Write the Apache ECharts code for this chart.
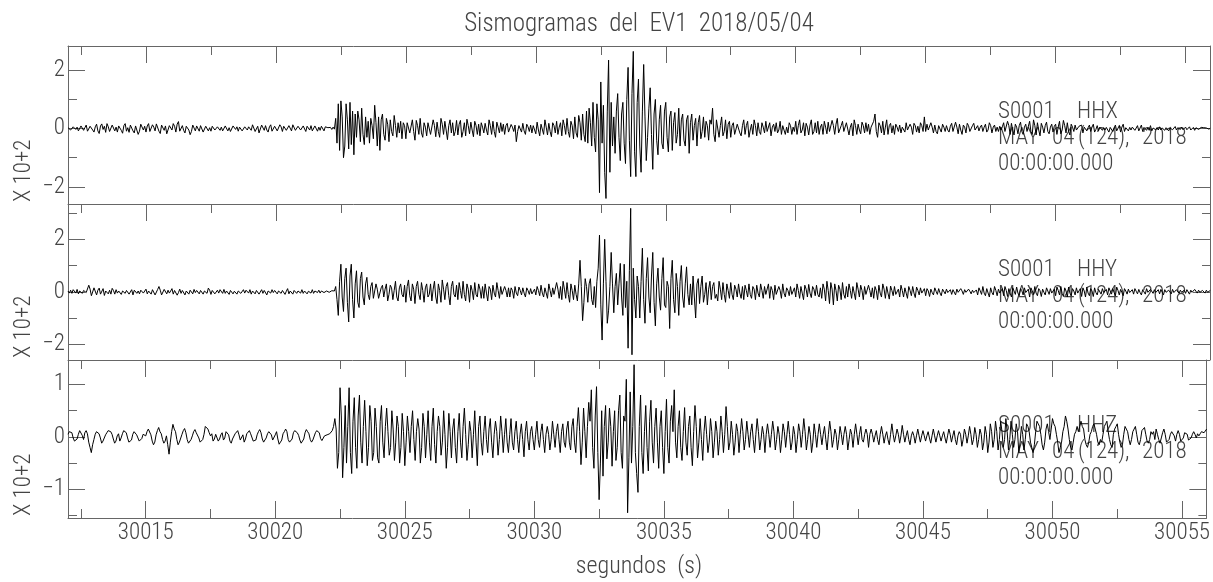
<!DOCTYPE html>
<html>
<head>
<meta charset="utf-8">
<script src="https://cdn.jsdelivr.net/npm/echarts@6/dist/echarts.min.js"></script>
<style>
html, body { margin: 0; padding: 0; background: #fff; }
#chart { width: 1213px; height: 582px; }
</style>
</head>
<body>
<div id="chart"></div>
<script>
// inicio de la traza y paso de muestreo (s)
const t0 = 30012.0
const dt = 0.05

// amplitudes (x 10+2), una fila = 1 s
const hhx = [
  0.03, 0.08, -0.05, -0.09, 0.06, 0.1, -0.03, 0.05, -0.08, -0.12, 0.09, 0.13, -0.06, 0.03, 0.12, -0.09, -0.15, 0.08, 0.1, -0.05,
  -0.12, 0.06, 0.15, -0.08, -0.17, 0.09, 0.16, -0.03, 0.08, -0.13, 0.17, 0.06, -0.1, -0.15, 0.12, 0.18, -0.08, 0.05, -0.12, 0.09,
  0.15, -0.06, -0.16, 0.1, 0.17, -0.09, 0.03, -0.13, 0.12, 0.18, -0.08, -0.15, 0.09, 0.06, -0.2, -0.09, 0.15, 0.17, -0.05, 0.08,
  -0.12, 0.09, 0.17, -0.1, -0.15, 0.13, 0.05, -0.08, 0.16, 0.21, -0.09, -0.17, 0.12, 0.15, -0.06, 0.09, -0.18, -0.21, 0.1, 0.13,
  -0.05, 0.17, 0.08, -0.12, 0.15, 0.24, -0.09, -0.13, 0.1, -0.06, -0.15, 0.08, 0.13, -0.05, -0.21, -0.1, 0.12, 0.06, -0.08, 0.09,
  0.06, -0.09, 0.1, 0.05, -0.12, -0.06, 0.08, 0.09, -0.08, 0.03, -0.09, 0.08, 0.12, -0.05, -0.1, 0.06, 0.09, -0.06, 0.05, -0.08,
  -0.05, 0.09, 0.1, -0.08, 0.03, -0.1, -0.06, 0.09, 0.08, -0.03, 0.06, -0.09, 0.05, 0.1, -0.08, -0.09, 0.06, 0.08, -0.05, 0.06,
  0.09, -0.06, 0.13, 0.15, -0.1, -0.05, 0.08, -0.15, -0.09, 0.12, 0.08, -0.06, 0.1, -0.05, -0.12, 0.06, 0.13, -0.09, -0.03, 0.08,
  0.09, -0.08, -0.05, 0.13, 0.06, -0.1, 0.08, 0.12, -0.06, -0.09, 0.1, 0.05, -0.08, 0.13, 0.09, -0.06, -0.1, 0.08, 0.12, -0.05,
  -0.06, 0.09, 0.03, -0.1, 0.08, 0.06, -0.05, 0.1, -0.08, -0.03, 0.09, 0.06, -0.09, 0.05, -0.06, 0.08, 0.03, -0.08, 0.06, 0.03,
  0.03, -0.02, 0.04, -0.03, 0.05, -0.02, 0.35, -0.5, 0.85, -0.75, 0.95, 0.4, -1.0, -0.6, 0.85, 0.3, -0.7, 0.9, -0.55, 0.6,
  -0.9, 0.5, -0.3, 0.6, 0.3, -0.45, 0.7, -0.2, -0.55, 0.4, -0.3, 0.25, -0.5, 0.35, 0.1, -0.35, 0.8, 0.2, -0.6, 0.4,
  -0.75, 0.3, 0.5, -0.2, -0.4, 0.35, 0.15, -0.45, 0.3, -0.1, -0.25, 0.45, 0.1, -0.3, 0.2, -0.15, 0.25, -0.35, 0.2, 0.1,
  -0.35, 0.2, 0.25, -0.15, -0.2, 0.3, -0.1, -0.4, 0.28, 0.1, -0.2, 0.35, -0.15, -0.3, 0.2, 0.05, -0.25, 0.2, 0.15, -0.2,
  -0.25, 0.3, 0.1, -0.28, 0.22, -0.1, -0.3, 0.35, 0.15, -0.2, 0.25, -0.05, -0.38, 0.1, 0.3, -0.15, 0.2, -0.25, -0.1, 0.28,
  -0.22, 0.15, 0.28, -0.3, -0.1, 0.2, -0.25, 0.32, 0.1, -0.18, 0.22, -0.05, -0.28, 0.25, 0.1, -0.2, 0.15, -0.25, 0.2, 0.05,
  -0.15, 0.18, -0.05, -0.22, 0.3, 0.1, -0.2, 0.25, -0.1, -0.3, 0.22, 0.05, -0.15, 0.2, -0.1, 0.15, -0.2, 0.1, 0.18, -0.12,
  -0.12, 0.14, 0.05, -0.1, 0.12, -0.45, -0.1, 0.1, 0.05, -0.12, 0.18, -0.08, -0.2, 0.15, 0.06, -0.1, 0.12, -0.15, 0.1, 0.05,
  -0.18, 0.22, -0.05, -0.25, 0.15, 0.1, -0.2, 0.3, 0.05, -0.22, 0.18, -0.1, -0.28, 0.2, 0.1, -0.15, 0.25, -0.2, 0.05, 0.2,
  -0.25, 0.3, 0.1, -0.2, 0.35, -0.1, -0.3, 0.25, 0.1, -0.35, 0.4, -0.15, -0.3, 0.45, 0.2, -0.4, 0.5, -0.2, -0.45, 0.6,
  -0.5, 0.7, 0.2, -0.6, 0.9, -0.3, -0.8, 0.85, 0.3, -2.2, 1.6, -0.5, 0.8, -1.5, -2.4, 0.6, 2.35, -1.5, 0.9, -0.6,
  0.4, -0.85, 0.6, 1.2, -0.3, -1.1, 0.5, 0.9, -0.5, -1.2, 1.0, 2.1, -0.4, -1.65, 1.2, 2.65, -0.8, -1.65, 0.9, 1.7,
  -0.6, -1.5, 0.6, 2.2, 0.4, -1.1, -0.3, 0.7, 1.4, -0.2, -1.4, 0.5, 1.0, -0.4, -0.9, 0.3, 0.8, -0.5, -0.7, 0.6,
  0.9, -0.3, -0.8, 0.4, 0.6, -0.75, 0.2, 0.55, -0.5, -0.2, 0.7, -0.6, 0.3, 0.5, -0.4, -0.6, 0.3, 0.45, -0.85, 0.2,
  0.5, -0.4, 0.1, 0.35, -0.6, 0.2, 0.45, -0.35, -0.1, 0.4, -0.3, 0.25, 0.1, -0.4, 0.3, 0.15, 0.7, -0.2, -0.45, 0.3,
  0.35, -0.3, 0.1, 0.4, -0.25, -0.1, 0.3, -0.35, 0.15, 0.25, -0.3, 0.1, 0.2, -0.2, -0.25, 0.15, 0.2, -0.15, -0.25, 0.1,
  0.3, -0.2, 0.1, 0.25, -0.3, -0.05, 0.15, -0.2, 0.3, 0.1, -0.25, 0.2, -0.1, -0.2, 0.2, 0.05, -0.15, 0.25, -0.1, -0.15,
  0.2, -0.25, 0.05, 0.15, -0.1, 0.2, -0.15, -0.05, 0.25, -0.2, 0.1, 0.15, -0.2, 0.05, -0.15, 0.2, 0.1, -0.2, 0.05, -0.1,
  0.25, -0.2, 0.1, 0.3, -0.15, -0.05, 0.2, -0.25, 0.18, 0.05, -0.22, 0.12, 0.3, -0.2, -0.1, 0.2, -0.15, 0.25, -0.2, 0.05,
  0.15, -0.2, 0.25, 0.05, -0.18, 0.22, -0.1, -0.15, 0.28, 0.1, -0.2, 0.15, 0.35, -0.15, -0.2, 0.1, 0.25, -0.1, -0.15, 0.2,
  0.2, -0.22, 0.05, 0.18, -0.25, 0.3, 0.1, -0.2, 0.15, -0.05, -0.18, 0.22, 0.1, -0.15, 0.2, -0.1, 0.15, -0.2, 0.05, 0.1,
  0.25, 0.5, -0.1, -0.3, 0.2, 0.1, -0.15, 0.25, -0.22, 0.05, 0.3, -0.2, 0.1, 0.18, -0.15, 0.1, -0.2, 0.15, 0.05, -0.1,
  0.12, -0.15, 0.05, 0.1, -0.12, 0.2, -0.05, -0.1, 0.15, 0.05, -0.2, 0.18, 0.1, -0.12, 0.08, -0.15, 0.2, 0.1, -0.1, 0.4,
  -0.1, 0.15, -0.05, -0.1, 0.2, 0.05, -0.15, 0.12, -0.1, -0.18, 0.1, 0.05, -0.12, 0.15, 0.05, -0.1, 0.1, -0.05, -0.12, 0.08,
  0.18, -0.1, -0.15, 0.22, 0.05, -0.18, 0.15, -0.05, -0.2, 0.12, 0.05, -0.15, 0.18, 0.1, -0.1, -0.15, 0.1, 0.18, -0.05, -0.1,
  0.1, -0.08, 0.05, 0.12, -0.1, 0.05, 0.15, -0.12, -0.05, 0.2, 0.1, -0.15, 0.05, 0.12, -0.1, 0.05, -0.1, 0.08, -0.05, 0.06,
  0.2, -0.1, -0.15, 0.25, 0.1, -0.2, 0.18, -0.05, -0.22, 0.15, 0.05, -0.18, 0.1, 0.22, -0.1, -0.2, 0.05, 0.15, -0.1, -0.05,
  0.25, -0.1, -0.2, 0.3, 0.1, -0.22, 0.2, -0.05, -0.25, 0.18, 0.05, -0.15, 0.1, 0.22, -0.1, -0.18, 0.05, 0.15, -0.12, 0.08,
  0.15, -0.2, 0.05, 0.25, -0.18, -0.05, 0.28, 0.1, -0.15, 0.2, -0.1, -0.22, 0.15, 0.05, -0.1, 0.12, -0.05, -0.1, 0.08, 0.05,
  0.12, -0.15, 0.05, 0.1, -0.08, 0.03, 0.12, -0.1, 0.05, 0.15, -0.12, -0.03, 0.1, -0.08, 0.05, 0.08, -0.06, 0.03, -0.05, 0.04,
  0.1, -0.12, 0.04, 0.08, -0.1, 0.02, 0.12, -0.08, -0.03, 0.1, -0.12, 0.05, 0.15, -0.1, 0.03, 0.06, -0.08, 0.04, -0.05, 0.05,
  0.08, -0.06, 0.02, 0.1, -0.08, -0.03, 0.12, -0.1, 0.04, 0.08, -0.06, 0.03, -0.06, 0.1, -0.08, 0.02, 0.05, -0.04, 0.03, -0.05,
  0.06, -0.05, 0.02, 0.08, -0.06, 0.03, 0.05, -0.08, 0.02, 0.06, -0.04, -0.02, 0.07, -0.05, 0.03, 0.04, -0.03, 0.05, -0.04, 0.02,
  0.05, -0.04, 0.02, 0.06, -0.05, 0.01, 0.04, -0.06, 0.03, 0.05, -0.03, 0.02, 0.04, -0.02, 0.03, -0.03, 0.02, 0.04, -0.02, 0.01
]

const hhy = [
  0.03, -0.05, 0.06, -0.06, 0.08, 0.05, -0.05, 0.09, -0.08, 0.03, 0.06, -0.06, 0.05, 0.08, -0.03, 0.02, 0.25, 0.1, -0.15, -0.08,
  0.15, 0.08, -0.12, 0.06, 0.14, -0.09, -0.05, 0.12, -0.14, 0.03, 0.1, -0.08, 0.06, -0.09, 0.13, 0.05, -0.09, 0.08, -0.05, 0.03,
  0.08, -0.1, 0.03, 0.09, -0.06, 0.05, 0.12, -0.09, -0.03, 0.08, -0.12, 0.06, 0.09, -0.06, 0.03, -0.08, 0.06, 0.09, -0.05, 0.02,
  0.1, -0.08, 0.03, 0.06, -0.09, 0.08, 0.12, -0.12, -0.05, 0.09, 0.2, 0.06, -0.12, -0.06, 0.09, 0.03, -0.08, 0.06, -0.05, 0.03,
  0.12, -0.09, 0.05, 0.08, -0.13, -0.03, 0.1, -0.06, 0.05, 0.09, -0.12, 0.03, 0.08, -0.09, 0.06, 0.03, -0.08, 0.09, -0.03, 0.05,
  0.06, -0.08, 0.05, 0.1, -0.09, 0.03, 0.08, -0.06, 0.14, 0.06, -0.1, 0.05, 0.09, -0.08, -0.03, 0.06, -0.05, 0.08, 0.03, -0.06,
  0.09, -0.06, 0.03, 0.08, -0.1, 0.05, 0.12, -0.08, 0.02, 0.06, -0.09, 0.03, 0.1, -0.06, -0.03, 0.08, -0.05, 0.06, 0.03, -0.05,
  0.08, -0.09, 0.03, 0.06, -0.08, 0.05, 0.12, -0.09, -0.03, 0.08, -0.06, 0.05, 0.09, -0.12, 0.03, 0.06, -0.05, 0.08, -0.03, 0.05,
  0.1, -0.08, 0.03, 0.09, -0.06, 0.05, 0.08, -0.1, 0.02, 0.12, -0.08, 0.03, 0.06, -0.09, 0.05, 0.08, -0.06, 0.03, 0.06, -0.05,
  0.08, -0.06, 0.03, 0.09, -0.08, 0.02, 0.06, -0.05, 0.08, -0.06, 0.03, 0.05, -0.03, 0.06, -0.05, 0.03, 0.05, -0.03, 0.02, 0.03,
  0.03, -0.02, 0.01, 0.04, -0.02, 0.03, 0.2, -0.3, -0.9, 0.4, 1.05, -0.2, -0.75, 0.5, 0.9, -0.4, -1.15, 0.6, 1.05, -0.3,
  -1.0, 0.3, 0.8, -0.4, -0.6, 0.5, 0.75, -0.2, -0.5, 0.3, 0.55, -0.1, -0.3, 0.2, 0.35, -0.25, -0.2, 0.3, 0.1, -0.25,
  -0.3, 0.15, 0.25, -0.2, 0.1, 0.3, -0.35, -0.1, 0.25, 0.15, -0.3, 0.05, 0.4, -0.2, -0.35, 0.15, 0.3, -0.1, -0.2, 0.25,
  -0.4, 0.2, 0.45, -0.15, -0.35, 0.3, 0.1, -0.45, 0.2, 0.4, -0.1, -0.3, 0.35, 0.05, -0.4, 0.15, 0.3, -0.2, -0.1, 0.3,
  -0.35, 0.1, 0.4, -0.2, -0.45, 0.3, 0.05, -0.4, 0.45, 0.1, -0.3, 0.2, 0.35, -0.15, -0.5, 0.2, 0.4, -0.1, -0.2, 0.25,
  -0.3, 0.35, 0.05, -0.25, 0.4, -0.1, -0.35, 0.3, 0.1, -0.4, 0.25, 0.05, -0.3, 0.35, -0.1, -0.2, 0.3, 0.1, -0.25, 0.2,
  -0.25, 0.3, -0.05, -0.35, 0.2, 0.1, -0.3, 0.25, -0.05, -0.2, 0.35, 0.05, -0.25, 0.2, -0.1, -0.15, 0.2, 0.05, -0.2, 0.15,
  -0.2, 0.15, 0.05, -0.25, 0.2, -0.05, -0.15, 0.18, 0.05, -0.12, 0.15, -0.05, -0.2, 0.15, 0.05, -0.1, 0.12, -0.08, -0.05, 0.1,
  -0.12, 0.2, 0.05, -0.15, 0.25, -0.05, -0.2, 0.15, 0.1, -0.25, 0.3, 0.05, -0.2, 0.15, -0.1, -0.15, 0.35, 0.1, -0.25, 0.2,
  -0.3, 0.4, 0.1, -0.25, 0.35, -0.1, -0.4, 0.3, 0.05, -0.3, 0.25, -0.1, -0.35, 0.3, 1.2, 0.2, -1.1, -0.4, 0.5, 0.2,
  -0.4, 0.3, 0.5, -0.3, -0.5, 0.2, -0.6, 0.4, 0.9, 2.16, -0.5, -1.84, 0.3, 2.0, 0.4, -1.2, -0.7, 0.2, 1.5, 0.3,
  -0.8, 0.2, 0.7, -0.5, 0.3, 1.08, -0.2, -0.9, 1.05, -0.6, 0.4, -2.15, 0.8, 3.18, -2.4, 0.9, -0.3, -1.0, 0.6, 0.2,
  -1.0, 0.4, 1.66, -0.3, -1.2, 0.5, 1.3, -0.2, -0.8, 0.6, 1.5, -0.4, -1.3, 0.3, 0.9, -0.2, -0.7, 0.5, 1.3, -0.5,
  -0.6, 0.4, 0.2, -1.4, 0.5, 1.2, -0.3, -0.8, 0.7, 0.2, -0.9, 0.4, 1.0, -0.2, -0.6, 0.3, 0.95, -0.1, -0.5, 0.3,
  -0.5, 0.6, -0.2, -1.0, 0.3, 0.5, -0.45, 0.2, 0.6, -0.4, -0.1, 0.35, -0.5, 0.1, 0.4, -0.3, 0.2, 0.35, -0.25, -0.1,
  -0.35, 0.4, 0.1, -0.3, 0.35, -0.1, -0.4, 0.3, 0.05, -0.25, 0.35, -0.1, -0.3, 0.25, 0.1, -0.2, 0.3, -0.05, -0.25, 0.2,
  -0.3, 0.25, 0.05, -0.2, 0.3, -0.1, -0.25, 0.2, 0.1, -0.3, 0.25, -0.05, -0.2, 0.3, 0.05, -0.25, 0.2, -0.1, -0.15, 0.3,
  -0.25, 0.2, 0.05, -0.3, 0.25, -0.1, -0.15, 0.2, 0.05, -0.25, 0.3, -0.05, -0.2, 0.15, 0.05, -0.15, 0.2, -0.1, -0.1, 0.15,
  -0.2, 0.3, 0.05, -0.25, 0.2, -0.05, -0.3, 0.25, 0.1, -0.2, 0.28, -0.05, -0.22, 0.2, 0.1, -0.15, 0.25, -0.1, -0.2, 0.15,
  -0.25, 0.3, 0.1, -0.35, 0.4, 0.05, -0.45, 0.35, 0.1, -0.5, 0.3, 0.05, -0.35, 0.25, 0.1, -0.3, 0.35, -0.1, -0.25, 0.2,
  -0.2, 0.3, 0.05, -0.25, 0.2, -0.05, -0.3, 0.35, 0.1, -0.2, 0.25, 0.05, -0.3, 0.2, -0.1, -0.15, 0.25, 0.05, -0.2, 0.15,
  -0.25, 0.2, 0.05, -0.3, 0.25, -0.05, -0.2, 0.3, 0.1, -0.25, 0.2, -0.05, -0.28, 0.22, 0.05, -0.15, 0.2, -0.1, -0.15, 0.1,
  -0.2, 0.25, 0.05, -0.2, 0.15, -0.05, -0.25, 0.2, 0.05, -0.15, 0.2, -0.05, -0.22, 0.18, 0.05, -0.12, 0.15, -0.05, -0.1, 0.12,
  -0.15, 0.12, 0.03, -0.18, 0.1, -0.03, -0.12, 0.15, 0.02, -0.1, 0.12, -0.04, -0.15, 0.1, 0.03, -0.08, 0.1, -0.03, -0.06, 0.08,
  -0.1, 0.08, 0.02, -0.12, 0.1, -0.02, -0.08, 0.12, 0.03, -0.1, 0.08, -0.02, -0.06, 0.1, 0.02, -0.08, 0.06, -0.03, -0.05, 0.07,
  -0.12, 0.15, 0.03, -0.1, 0.2, -0.05, -0.15, 0.12, 0.05, -0.2, 0.15, -0.03, -0.12, 0.2, 0.05, -0.15, 0.1, -0.05, -0.1, 0.12,
  -0.15, 0.2, 0.05, -0.18, 0.12, -0.05, -0.2, 0.15, 0.03, -0.1, 0.18, -0.05, -0.15, 0.12, 0.04, -0.12, 0.15, -0.03, -0.1, 0.1,
  -0.2, 0.15, 0.03, -0.1, 0.2, -0.05, -0.15, 0.12, 0.04, -0.18, 0.1, -0.02, -0.12, 0.15, 0.03, -0.1, 0.12, -0.05, -0.08, 0.1,
  -0.15, 0.18, 0.05, -0.12, 0.2, -0.06, -0.18, 0.15, 0.03, -0.2, 0.18, -0.05, -0.15, 0.12, 0.03, -0.12, 0.15, -0.05, -0.09, 0.12,
  -0.18, 0.15, 0.03, -0.2, 0.18, -0.05, -0.15, 0.12, 0.03, -0.18, 0.15, -0.03, -0.12, 0.09, 0.03, -0.09, 0.12, -0.03, -0.08, 0.09,
  -0.12, 0.15, 0.03, -0.09, 0.12, -0.03, -0.15, 0.18, 0.05, -0.12, 0.09, -0.03, -0.15, 0.12, 0.03, -0.09, 0.1, -0.03, -0.08, 0.08,
  -0.09, 0.12, 0.02, -0.08, 0.09, -0.03, -0.12, 0.08, 0.03, -0.09, 0.12, -0.02, -0.08, 0.09, 0.02, -0.06, 0.08, -0.03, -0.05, 0.08,
  -0.08, 0.09, 0.02, -0.12, 0.08, -0.02, -0.09, 0.06, 0.02, -0.08, 0.09, -0.03, -0.06, 0.08, 0.02, -0.06, 0.06, -0.02, -0.05, 0.06,
  -0.06, 0.08, 0.02, -0.09, 0.06, -0.02, -0.08, 0.09, 0.02, -0.05, 0.06, -0.02, -0.08, 0.05, 0.02, -0.05, 0.06, -0.02, -0.03, 0.05
]

const hhz = [
  0.05, 0.1, 0.12, 0.08, -0.02, -0.08, -0.1, -0.04, 0.05, 0.12, 0.1, 0.03, -0.05, 0.08, 0.12, 0.06, -0.1, -0.2, -0.3, -0.15,
  -0.05, 0.05, 0.1, 0.12, 0.06, -0.02, -0.12, -0.08, -0.05, 0.04, 0.08, 0.12, 0.15, 0.1, 0.05, -0.04, -0.12, -0.08, 0.02, 0.06,
  -0.08, -0.02, 0.06, 0.12, 0.14, 0.08, -0.02, -0.1, -0.12, -0.06, 0.05, 0.1, 0.12, 0.04, -0.02, -0.08, -0.1, -0.03, 0.05, 0.08,
  0.02, 0.1, 0.15, 0.12, 0.04, -0.08, -0.15, -0.1, 0.04, 0.12, 0.18, 0.1, 0.06, -0.05, -0.12, -0.08, 0.02, -0.15, -0.33, -0.1,
  0.1, 0.24, 0.15, 0.1, -0.05, -0.15, -0.1, -0.08, 0.05, 0.12, 0.16, 0.08, -0.05, -0.12, -0.15, -0.05, 0.02, 0.1, 0.14, 0.08,
  0.08, -0.02, -0.1, -0.08, -0.05, 0.05, 0.2, 0.18, 0.15, 0.08, 0.02, 0.06, -0.08, -0.04, 0.05, 0.08, -0.08, -0.04, 0.04, 0.08,
  -0.06, -0.02, 0.1, 0.08, 0.04, -0.08, -0.12, -0.04, -0.04, 0.06, 0.08, 0.12, 0.04, -0.06, -0.06, 0.04, -0.1, -0.04, 0.06, 0.08,
  0.12, 0.06, 0.04, -0.08, -0.1, -0.06, 0.04, 0.1, 0.14, 0.08, -0.04, -0.1, -0.12, -0.02, 0.06, 0.1, 0.12, 0.04, -0.06, -0.08,
  0.04, 0.1, -0.04, -0.14, -0.1, -0.06, 0.06, 0.1, 0.15, 0.1, -0.05, -0.1, -0.12, -0.04, 0.08, 0.12, 0.15, 0.08, 0.03, -0.06,
  -0.12, -0.1, -0.04, 0.08, 0.14, 0.1, 0.06, -0.05, -0.1, -0.06, -0.03, 0.08, 0.12, 0.1, 0.08, -0.03, -0.07, -0.04, 0.02, 0.03,
  0.04, 0.05, 0.06, 0.08, 0.12, 0.2, 0.35, 0.15, -0.6, -0.3, 0.94, 0.4, -0.78, -0.2, 0.6, -0.5, 0.2, 0.94, -0.3, -0.7,
  0.3, 0.75, -0.2, -0.6, 0.4, 0.8, -0.1, -0.5, 0.2, 0.7, 0.1, -0.55, -0.2, 0.6, 0.3, -0.45, -0.3, 0.55, 0.2, -0.4,
  -0.5, 0.3, 0.6, -0.1, -0.4, 0.2, 0.55, 0.1, -0.35, -0.2, 0.5, 0.15, -0.45, -0.1, 0.4, 0.2, -0.5, -0.2, 0.45, 0.1,
  -0.55, -0.1, 0.4, 0.1, -0.3, 0.2, 0.5, -0.05, -0.45, 0.1, 0.35, 0.15, -0.5, -0.2, 0.45, 0.2, -0.4, 0.05, 0.5, -0.1,
  -0.45, 0.2, 0.55, -0.15, -0.5, 0.1, 0.4, 0.2, -0.35, -0.1, 0.5, 0.05, -0.6, -0.2, 0.45, 0.1, -0.4, 0.15, 0.35, -0.2,
  -0.5, 0.1, 0.45, -0.1, -0.4, 0.2, 0.55, 0.05, -0.45, -0.15, 0.3, 0.1, -0.4, 0.05, 0.5, -0.1, -0.55, 0.2, 0.4, -0.1,
  -0.35, 0.1, 0.4, -0.05, -0.3, 0.15, 0.35, -0.1, -0.4, 0.05, 0.3, 0.1, -0.35, -0.05, 0.4, 0.1, -0.3, 0.05, 0.35, -0.1,
  -0.3, 0.05, 0.35, -0.1, -0.25, 0.1, 0.3, -0.05, -0.3, 0.05, 0.25, -0.05, -0.38, 0.1, 0.3, -0.05, -0.25, 0.1, 0.2, -0.05,
  -0.25, 0.05, 0.3, -0.05, -0.2, 0.1, 0.25, -0.05, -0.3, 0.05, 0.2, 0.05, -0.25, -0.05, 0.3, 0.05, -0.2, 0.1, 0.25, -0.05,
  -0.3, 0.1, 0.25, -0.1, -0.2, 0.15, 0.3, -0.1, -0.25, 0.2, 0.35, -0.1, -0.3, 0.2, 0.56, 0.1, -0.53, -0.1, 0.55, 0.1,
  -0.4, 0.2, 0.66, 0.3, 0.9, -0.2, -0.6, 0.4, 0.96, -0.3, -1.2, -0.5, 0.5, -0.75, 0.2, 0.6, -0.42, -0.1, 0.55, 0.2,
  -0.56, 0.1, 0.5, -0.45, -0.2, 0.5, 0.8, -0.3, -0.6, 0.4, 0.3, 1.1, -1.45, -0.4, 0.86, -0.5, 0.2, 1.38, -0.3, -0.7,
  -1.06, 0.2, 0.8, -0.3, -0.7, 0.1, 0.6, -0.2, -0.65, 0.3, 0.7, -0.1, -0.5, 0.2, 0.55, -0.1, -0.6, 0.2, 0.5, -0.2,
  -0.7, 0.1, 0.72, -0.2, -0.5, 0.3, 0.6, 0.1, 0.9, -0.1, -0.4, 0.2, 0.5, -0.2, -0.45, 0.1, 0.56, -0.1, -0.35, 0.2,
  0.4, -0.2, -0.55, 0.1, 0.6, 0.2, -0.4, -0.1, 0.35, -0.05, -0.45, 0.1, 0.4, 0.05, -0.3, -0.1, 0.35, 0.1, -0.4, -0.1,
  0.3, 0.1, -0.35, -0.05, 0.4, 0.1, -0.3, 0.05, 0.58, 0.2, -0.25, -0.1, 0.3, 0.05, -0.35, -0.1, 0.25, 0.1, -0.3, 0.05,
  0.35, 0.1, -0.25, -0.05, 0.3, 0.05, -0.2, 0.1, 0.25, -0.05, -0.3, 0.05, 0.35, 0.1, -0.25, -0.05, 0.2, 0.05, -0.3, 0.05,
  0.25, 0.05, -0.2, 0.05, 0.3, 0.1, -0.25, -0.05, 0.2, 0.05, -0.3, -0.05, 0.25, 0.1, -0.2, 0.05, 0.3, 0.05, -0.25, -0.1,
  0.2, 0.05, -0.3, -0.05, 0.25, 0.1, -0.2, 0.05, 0.35, 0.1, -0.25, -0.05, 0.2, 0.05, -0.3, -0.1, 0.25, 0.05, -0.2, 0.05,
  0.25, 0.05, -0.15, 0.05, 0.2, -0.05, -0.25, 0.05, 0.3, 0.1, -0.2, -0.05, 0.15, 0.05, -0.25, -0.05, 0.2, 0.05, -0.15, 0.05,
  0.2, 0.05, -0.25, -0.05, 0.15, 0.05, -0.2, 0.05, 0.25, 0.05, -0.15, 0.05, 0.2, -0.05, -0.1, 0.05, 0.15, 0.05, -0.2, 0.05,
  0.15, 0.05, -0.1, 0.02, 0.12, -0.05, -0.15, 0.05, 0.2, 0.05, -0.12, 0.02, 0.1, -0.05, -0.15, 0.05, 0.25, 0.05, -0.1, 0.02,
  0.15, 0.05, -0.12, 0.02, 0.22, 0.05, -0.1, 0.02, 0.12, -0.05, -0.15, 0.02, 0.1, 0.02, -0.12, 0.02, 0.15, 0.02, -0.1, 0.02,
  0.12, 0.02, -0.08, 0.02, 0.1, -0.02, -0.12, 0.02, 0.15, 0.02, -0.1, 0.02, 0.12, 0.02, -0.08, 0.02, 0.1, -0.02, -0.12, 0.02,
  0.15, 0.05, -0.1, 0.02, 0.12, -0.05, -0.15, 0.02, 0.1, 0.05, -0.18, -0.05, 0.15, 0.05, -0.12, 0.02, 0.2, 0.05, -0.15, -0.05,
  0.18, 0.05, -0.2, -0.05, 0.15, 0.05, -0.25, -0.1, 0.2, 0.05, -0.3, -0.1, 0.25, 0.1, -0.2, -0.05, 0.3, 0.1, -0.25, -0.05,
  0.3, 0.1, -0.2, -0.05, 0.35, 0.1, -0.25, -0.05, 0.3, 0.05, -0.2, -0.05, 0.25, 0.1, -0.3, -0.1, 0.2, 0.05, -0.25, -0.05,
  0.25, 0.2, 0.1, -0.1, -0.2, -0.3, -0.15, 0.1, 0.3, 0.25, 0.2, 0.05, -0.15, -0.25, -0.1, 0.15, 0.25, 0.1, -0.05, 0.15,
  0.35, 0.25, 0.2, 0.05, -0.1, -0.3, -0.2, -0.1, 0.1, 0.2, 0.4, 0.3, 0.15, -0.05, -0.2, -0.25, -0.1, 0.05, 0.1, 0.2,
  0.1, 0.2, 0.3, 0.2, 0.15, -0.05, -0.15, -0.2, -0.1, 0.05, 0.1, 0.2, 0.25, 0.15, 0.05, -0.1, -0.15, -0.05, -0.1, 0.05,
  0.2, 0.25, 0.3, 0.1, -0.05, -0.15, -0.2, 0.05, 0.15, 0.2, 0.25, 0.05, -0.1, -0.2, -0.15, 0.05, 0.2, 0.15, 0.1, -0.05,
  -0.15, -0.05, 0.1, 0.15, 0.2, 0.05, -0.1, -0.15, -0.05, 0.12, 0.15, 0.18, 0.05, -0.08, -0.12, -0.05, 0.1, 0.05, 0.1, -0.05,
  0.15, 0.05, -0.05, -0.12, -0.02, 0.08, 0.15, 0.05, -0.1, -0.08, -0.05, 0.05, 0.1, 0.12, 0.02, -0.08, 0.05, 0.12, 0.05, -0.08,
  -0.1, -0.02, 0.08, 0.05, 0.05, -0.06, -0.08, -0.02, 0.05, 0.1, 0.05, -0.02, 0.06, 0.02, 0.06, 0.1, 0.12, 0.08, 0.1, 0.15
]

const traces = [hhx, hhy, hhz]
const channels = ['HHX', 'HHY', 'HHZ']
const station = 'S0001'
const dateParts = ['MAY', '04', '(124),', '2018']
const timeText = '00:00:00.000'
const xMin = 30012.0
const xMax = 30055.94
const yMin = [-2.59, -2.6, -1.55]
const yMax = [2.835, 3.345, 1.47]

const font = "'Roboto Condensed', 'DejaVu Sans Condensed', 'Liberation Sans', sans-serif"
const axisGray = '#666'
const textGray = '#444'

const panels = [
  { top: 46, height: 158 },
  { top: 204, height: 156 },
  { top: 360, height: 158 }
]

const lineStyle = { color: axisGray, width: 1 }

const grids = panels.map(p => ({ left: 68, right: 3, top: p.top, height: p.height }))

const xAxes = []
panels.forEach((p, i) => {
  xAxes.push({
    type: 'value', gridIndex: i, position: 'top', min: xMin, max: xMax, splitNumber: 9,
    axisLine: { show: true, onZero: false, lineStyle },
    axisTick: { show: true, inside: true, length: 17, lineStyle },
    minorTick: { show: true, splitNumber: 2, length: 9, lineStyle },
    axisLabel: { show: false },
    splitLine: { show: false }
  })
})
// eje inferior con etiquetas
xAxes.push({
  type: 'value', gridIndex: 2, position: 'bottom', min: xMin, max: xMax, splitNumber: 9,
  axisLine: { show: true, onZero: false, lineStyle },
  axisTick: { show: true, inside: true, length: 17, lineStyle },
  minorTick: { show: true, splitNumber: 2, length: 9, lineStyle },
  axisLabel: {
    show: true, margin: 4, fontSize: 23, fontFamily: font, fontWeight: 300, color: textGray,
    showMinLabel: false, showMaxLabel: false,
    formatter: v => String(v)
  },
  splitLine: { show: false }
})

const yAxes = []
panels.forEach((p, i) => {
  yAxes.push({
    type: 'value', gridIndex: i, position: 'left', min: yMin[i], max: yMax[i], splitNumber: 3,
    axisLine: { show: true, onZero: false, lineStyle },
    axisTick: { show: true, inside: true, length: 17, lineStyle },
    minorTick: { show: true, splitNumber: 2, length: 9, lineStyle },
    axisLabel: {
      show: true, margin: 3, fontSize: 23, fontFamily: font, fontWeight: 300, color: textGray,
      showMinLabel: false, showMaxLabel: false,
      formatter: v => String(v).replace('-', '\u2212')
    },
    splitLine: { show: false }
  })
})
panels.forEach((p, i) => {
  yAxes.push({
    type: 'value', gridIndex: i, position: 'right', min: yMin[i], max: yMax[i], splitNumber: 3,
    axisLine: { show: true, onZero: false, lineStyle },
    axisTick: { show: true, inside: true, length: 17, lineStyle },
    minorTick: { show: true, splitNumber: 2, length: 8, lineStyle },
    axisLabel: { show: false },
    splitLine: { show: false }
  })
})

const series = traces.map((tr, i) => ({
  type: 'line',
  xAxisIndex: i,
  yAxisIndex: i,
  showSymbol: false,
  symbol: 'none',
  sampling: null,
  lineStyle: { color: '#000', width: 1 },
  data: tr.map((v, k) => [t0 + k * dt, v])
}))

function txt (text, x, y, size, align, extra) {
  return Object.assign({
    type: 'text', x: x, y: y, silent: true,
    style: {
      text: text, fontSize: size, fontFamily: font, fontWeight: 300, fill: textGray,
      align: align, verticalAlign: 'middle', textAlign: align, textVerticalAlign: 'middle'
    }
  }, extra || {})
}

const graphics = []
graphics.push(txt('Sismogramas  del  EV1  2018/05/04', 639, 25, 25, 'center'))
graphics.push(txt('segundos  (s)', 639, 567, 24, 'center'))
panels.forEach((p, i) => {
  const bottom = p.top + p.height
  graphics.push(txt('X 10+2', 24, bottom - 2, 23, 'left', { rotation: Math.PI / 2 }))
  graphics.push(txt(station, 998, p.top + 66, 23, 'left'))
  graphics.push(txt(channels[i], 1077, p.top + 66, 23, 'left'))
  const dx = [998, 1052, 1078, 1142]
  dateParts.forEach((d, j) => graphics.push(txt(d, dx[j], p.top + 92, 23, 'left')))
  graphics.push(txt(timeText, 998, p.top + 118, 23, 'left'))
})

const chart = echarts.init(document.getElementById('chart'))
chart.setOption({
  backgroundColor: '#fff',
  animation: false,
  grid: grids,
  xAxis: xAxes,
  yAxis: yAxes,
  series: series,
  graphic: graphics
})
</script>
</body>
</html>
